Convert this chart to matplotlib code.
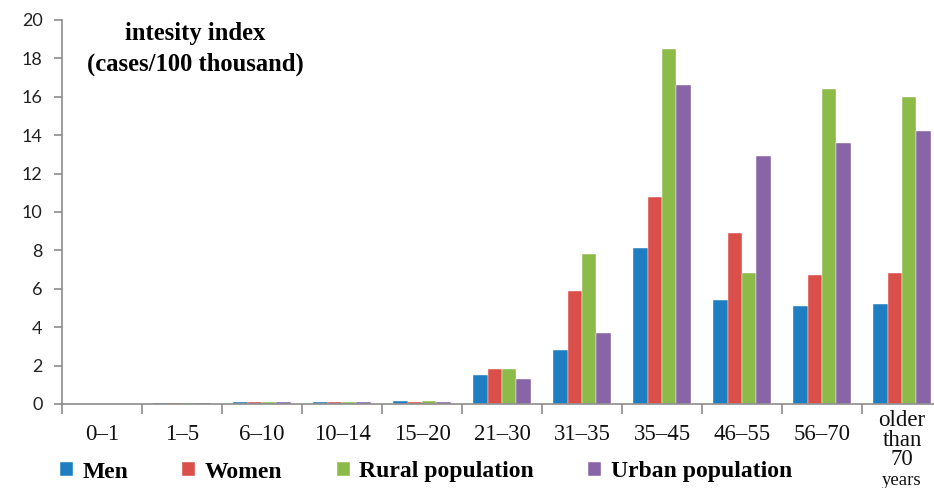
import matplotlib.pyplot as plt
import numpy as np

# age groups and intensity index (cases per 100 thousand)
age_groups = ["0–1", "1–5", "6–10", "10–14", "15–20", "21–30",
              "31–35", "35–45", "46–55", "56–70", "older\nthan\n70\nyears"]
men = [0.0, 0.07, 0.12, 0.1, 0.17, 1.5, 2.8, 8.1, 5.4, 5.1, 5.2]
women = [0.0, 0.07, 0.12, 0.1, 0.1, 1.8, 5.9, 10.8, 8.9, 6.7, 6.8]
rural = [0.0, 0.07, 0.12, 0.1, 0.17, 1.8, 7.8, 18.5, 6.8, 16.4, 16.0]
urban = [0.0, 0.07, 0.12, 0.1, 0.1, 1.3, 3.7, 16.6, 12.9, 13.6, 14.2]

series = [("Men", men, "#1f7ec1"),
          ("Women", women, "#da4f4a"),
          ("Rural population", rural, "#8dbb4a"),
          ("Urban population", urban, "#8765a6")]

fig = plt.figure(figsize=(9.34, 4.88), dpi=100)
# axes run a little past the right edge, so the last group is cut off
ax = fig.add_axes([62 / 934, 84 / 488, 880 / 934, 384 / 488])

x = np.arange(len(age_groups))
w = 0.18
handles = []
for i, (name, vals, col) in enumerate(series):
    b = ax.bar(x + (i - 1.5) * w, vals, width=w, color=col, label=name,
               edgecolor="white", linewidth=0.3)
    handles.append(b)

ax.set_xlim(-0.5, len(age_groups) - 0.5)
ax.set_ylim(0, 20)
ax.set_yticks(range(0, 21, 2))

for s in ["top", "right"]:
    ax.spines[s].set_visible(False)
for s in ["left", "bottom"]:
    ax.spines[s].set_color("#8c8c8c")
    ax.spines[s].set_linewidth(1.2)

ax.tick_params(axis="y", length=6, width=1.2, color="#8c8c8c", pad=8,
               labelsize=13, labelcolor="#222222")
for lbl in ax.get_yticklabels():
    lbl.set_family("Lato")

# tick marks between the age groups, labels drawn as text below
ax.set_xticks([])
ax.set_xticks(np.arange(-0.5, len(age_groups), 1.0), minor=True)
ax.tick_params(axis="x", which="minor", length=7, width=1.2, color="#8c8c8c")

xtrans = ax.get_xaxis_transform()
for xi, lab in zip(x, age_groups):
    if "\n" in lab:
        lines = lab.split("\n")
        ax.text(xi, -0.016, "\n".join(lines[:-1]), transform=xtrans,
                ha="center", va="top", fontsize=16.5, family="Liberation Serif",
                linespacing=0.9, color="#111111")
        ax.text(xi, -0.2, lines[-1], transform=xtrans,
                ha="center", va="center", fontsize=13.5,
                family="Liberation Serif", color="#111111")
    else:
        ax.text(xi, -0.08, lab, transform=xtrans,
                ha="center", va="center", fontsize=16.5,
                family="Liberation Serif", color="#111111")

ax.text(0.151, 0.995, "intesity index\n(cases/100 thousand)",
        transform=ax.transAxes, ha="center", va="top", fontsize=17.7,
        fontweight="bold", family="Liberation Serif", linespacing=1.4)

fig.legend(handles=handles, loc="center left",
           bbox_to_anchor=(48 / 934, 1 - 472 / 488), ncol=4, frameon=False,
           borderpad=0, handlelength=0.55, handleheight=0.55,
           handletextpad=0.4, columnspacing=2.3,
           prop={"family": "Liberation Serif", "weight": "bold", "size": 17})

fig.savefig("out.png", dpi=100)
